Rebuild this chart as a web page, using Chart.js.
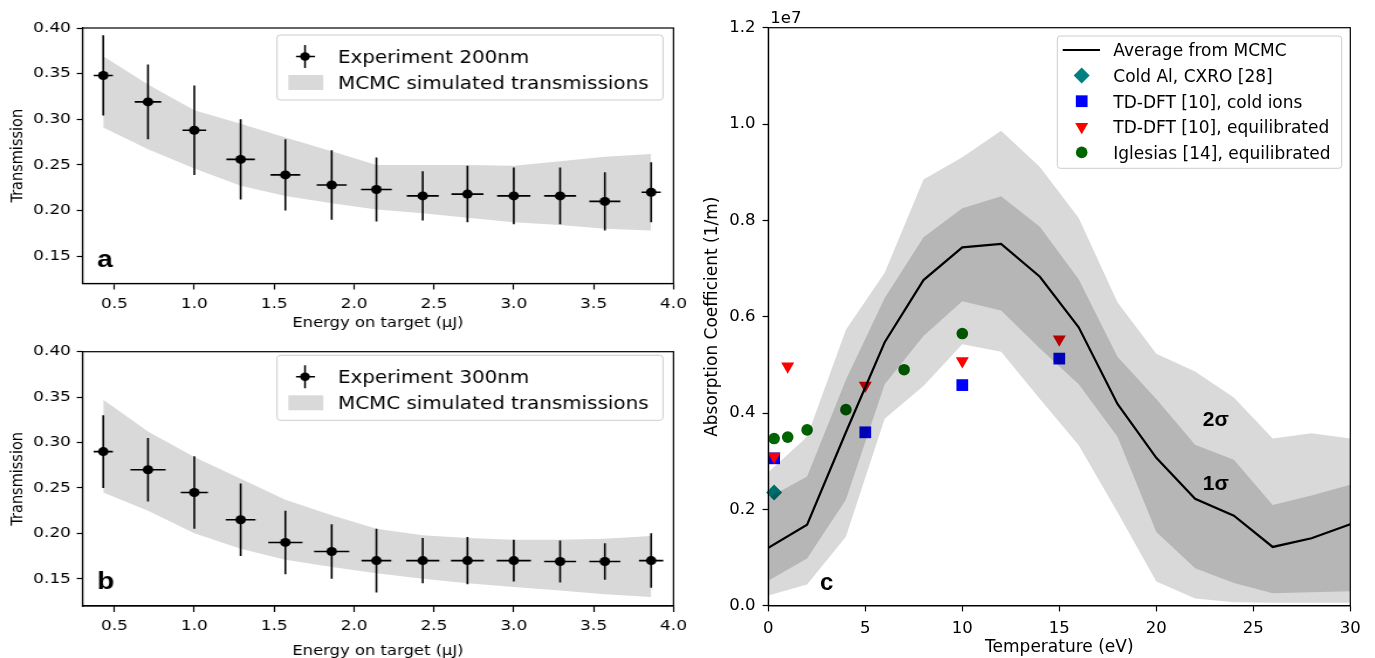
<!DOCTYPE html>
<html>
<head>
<meta charset="utf-8">
<script src="https://cdn.jsdelivr.net/npm/chart.js@4.4.0/dist/chart.umd.min.js"></script>
<style>
html, body { margin: 0; padding: 0; background: #fff; }
#wrap { position: relative; width: 1375px; height: 658px; overflow: hidden; background: #fff; }
canvas { position: absolute; }
</style>
</head>
<body>
<div id="wrap">
  <canvas id="chartA" width="598" height="330" style="left:0;top:0;width:700px;height:330px"></canvas>
  <canvas id="chartB" width="598" height="328" style="left:0;top:330px;width:700px;height:328px"></canvas>
  <canvas id="chartC" width="685" height="658" style="left:690px;top:0;width:685px;height:658px"></canvas>
</div>
<script>
// Données (panneaux a et b)
const energy = [0.43, 0.71, 1.00, 1.29, 1.57, 1.86, 2.14, 2.43, 2.71, 3.00, 3.29, 3.57, 3.86];
const trans200 = [0.348, 0.319, 0.288, 0.256, 0.239, 0.228, 0.223, 0.216, 0.218, 0.216, 0.216, 0.210, 0.220];
const trans200Err = [0.044, 0.041, 0.049, 0.044, 0.039, 0.038, 0.035, 0.027, 0.031, 0.031, 0.031, 0.032, 0.033];
const energy200Err = [0.06, 0.083, 0.074, 0.089, 0.093, 0.094, 0.096, 0.10, 0.10, 0.104, 0.10, 0.097, 0.06];
const band200Hi = [0.369, 0.338, 0.310, 0.295, 0.280, 0.265, 0.250, 0.250, 0.250, 0.249, 0.254, 0.259, 0.262];
const band200Lo = [0.291, 0.267, 0.246, 0.227, 0.216, 0.208, 0.201, 0.197, 0.192, 0.187, 0.184, 0.180, 0.178];

const trans300 = [0.290, 0.270, 0.245, 0.215, 0.190, 0.180, 0.170, 0.170, 0.170, 0.170, 0.169, 0.169, 0.170];
const trans300Err = [0.040, 0.035, 0.040, 0.040, 0.035, 0.030, 0.035, 0.025, 0.026, 0.023, 0.023, 0.020, 0.030];
const energy300Err = [0.06, 0.11, 0.085, 0.093, 0.107, 0.11, 0.093, 0.104, 0.103, 0.107, 0.10, 0.097, 0.076];
const band300Hi = [0.347, 0.312, 0.284, 0.260, 0.237, 0.220, 0.205, 0.198, 0.195, 0.193, 0.193, 0.194, 0.197];
const band300Lo = [0.245, 0.225, 0.200, 0.183, 0.171, 0.163, 0.156, 0.150, 0.145, 0.141, 0.137, 0.133, 0.130];

const energyTicks = [0.5, 1.0, 1.5, 2.0, 2.5, 3.0, 3.5, 4.0];
const transTicks = [0.15, 0.20, 0.25, 0.30, 0.35, 0.40];

// Panneau c (valeurs en unités de 1e7 1/m)
const temperature = [0, 2, 4, 6, 8, 10, 12, 14, 16, 18, 20, 22, 24, 26, 28, 30];
const mcmcAverage = [0.120, 0.168, 0.360, 0.547, 0.676, 0.744, 0.751, 0.683, 0.578, 0.419, 0.307, 0.222, 0.187, 0.122, 0.140, 0.169];
const sigma1Hi = [0.224, 0.268, 0.469, 0.639, 0.765, 0.825, 0.850, 0.787, 0.678, 0.517, 0.429, 0.334, 0.303, 0.209, 0.229, 0.251];
const sigma1Lo = [0.052, 0.098, 0.220, 0.460, 0.560, 0.632, 0.613, 0.534, 0.460, 0.351, 0.153, 0.078, 0.047, 0.026, 0.028, 0.030];
const sigma2Hi = [0.277, 0.351, 0.573, 0.691, 0.885, 0.931, 0.986, 0.911, 0.805, 0.630, 0.523, 0.486, 0.432, 0.347, 0.358, 0.347];
const sigma2Lo = [0.021, 0.044, 0.143, 0.388, 0.456, 0.543, 0.527, 0.429, 0.333, 0.194, 0.050, 0.015, 0.007, 0.006, 0.006, 0.006];

const cxroT = [0.3];
const cxroAbs = [0.235];
const tddftColdT = [0.3, 5, 10, 15];
const tddftColdAbs = [0.306, 0.360, 0.458, 0.513];
const tddftEqT = [0.3, 1, 5, 10, 15];
const tddftEqAbs = [0.310, 0.497, 0.457, 0.508, 0.553];
const iglesiasT = [0.3, 1, 2, 4, 7, 10];
const iglesiasAbs = [0.347, 0.350, 0.365, 0.407, 0.490, 0.565];

const tempTicks = [0, 5, 10, 15, 20, 25, 30];
const absTicks = [0.0, 0.2, 0.4, 0.6, 0.8, 1.0, 1.2];

// Mise en page
const SX = 700 / 598;   // étirement horizontal des panneaux a et b
const FONT = 'DejaVu Sans';
const BOLD = 'Liberation Sans';

Chart.defaults.color = '#000';
Chart.defaults.font.family = FONT;

function toPoints(xs, ys) {
    return xs.map((x, i) => ({ x: x, y: ys[i] }));
}

function tickGrid(len) {
    return { display: true, drawOnChartArea: false, drawTicks: true, tickLength: len, tickWidth: 1.2, tickColor: '#000' };
}

const axisBorder = { display: true, color: '#000', width: 1.2 };

function setTicks(values) {
    return scale => { scale.ticks = values.map(v => ({ value: v })); };
}

function roundBox(ctx, x, y, w, h, r) {
    ctx.beginPath();
    ctx.moveTo(x + r, y);
    ctx.arcTo(x + w, y, x + w, y + h, r);
    ctx.arcTo(x + w, y + h, x, y + h, r);
    ctx.arcTo(x, y + h, x, y, r);
    ctx.arcTo(x, y, x + w, y, r);
    ctx.closePath();
    ctx.fillStyle = 'rgba(255,255,255,0.85)';
    ctx.fill();
    ctx.strokeStyle = '#cccccc';
    ctx.lineWidth = 1;
    ctx.stroke();
}

function drawMarker(ctx, style, x, y, r) {
    ctx.beginPath();
    if (style === 'diamond') {
        ctx.moveTo(x, y - r); ctx.lineTo(x + r, y); ctx.lineTo(x, y + r); ctx.lineTo(x - r, y);
    } else if (style === 'square') {
        const s = r * Math.SQRT1_2;
        ctx.rect(x - s, y - s, 2 * s, 2 * s);
    } else if (style === 'triangleDown') {
        ctx.moveTo(x, y + r); ctx.lineTo(x - 0.866 * r, y - 0.5 * r); ctx.lineTo(x + 0.866 * r, y - 0.5 * r);
    } else {
        ctx.arc(x, y, r, 0, 2 * Math.PI);
    }
    ctx.closePath();
    ctx.fill();
}

// Barres d'erreur dessinées avant les marqueurs
const errorBars = {
    id: 'errorBars',
    beforeDatasetDraw(chart, args) {
        const ds = chart.data.datasets[args.index];
        if (!ds.yErr) return;
        const xs = chart.scales.x, ys = chart.scales.y, ctx = chart.ctx;
        ctx.save();
        ctx.strokeStyle = '#000';
        ctx.lineWidth = 1.6;
        ds.data.forEach((p, i) => {
            const px = xs.getPixelForValue(p.x), py = ys.getPixelForValue(p.y);
            ctx.beginPath();
            ctx.moveTo(px, ys.getPixelForValue(p.y - ds.yErr[i]));
            ctx.lineTo(px, ys.getPixelForValue(p.y + ds.yErr[i]));
            ctx.moveTo(xs.getPixelForValue(p.x - ds.xErr[i]), py);
            ctx.lineTo(xs.getPixelForValue(p.x + ds.xErr[i]), py);
            ctx.stroke();
        });
        ctx.restore();
    }
};

// Cadre complet autour de la zone de tracé
const frame = {
    id: 'frame',
    afterDatasetsDraw(chart) {
        const a = chart.chartArea, ctx = chart.ctx;
        ctx.save();
        ctx.strokeStyle = '#000';
        ctx.lineWidth = 1.2;
        ctx.strokeRect(a.left, a.top, a.right - a.left, a.bottom - a.top);
        ctx.restore();
    }
};

function transLegend(label, top, letter) {
    return {
        id: 'transLegend',
        afterDraw(chart) {
            const ctx = chart.ctx, a = chart.chartArea;
            ctx.save();
            roundBox(ctx, 277 / SX, top, (663 - 277) / SX, 65, 3);
            const cy = top + 21.5, mx = 305 / SX;
            ctx.strokeStyle = '#000';
            ctx.lineWidth = 1.5;
            ctx.beginPath();
            ctx.moveTo(296 / SX, cy); ctx.lineTo(301.5 / SX, cy);
            ctx.moveTo(309 / SX, cy); ctx.lineTo(315 / SX, cy);
            ctx.moveTo(mx, cy - 11.5); ctx.lineTo(mx, cy + 11.5);
            ctx.stroke();
            ctx.fillStyle = '#000';
            drawMarker(ctx, 'circle', mx, cy, 4.2);
            ctx.fillStyle = '#d9d9d9';
            ctx.fillRect(288.3 / SX, top + 40, 35 / SX, 15);
            ctx.fillStyle = '#000';
            ctx.textAlign = 'left';
            ctx.textBaseline = 'alphabetic';
            ctx.font = '17px "' + FONT + '"';
            ctx.fillText(label, 338 / SX, top + 27.5);
            ctx.fillText('MCMC simulated transmissions', 338 / SX, top + 54);
            ctx.font = 'bold 24px "' + BOLD + '"';
            ctx.fillText(letter, a.left + 12.5, a.bottom - 17);
            ctx.restore();
        }
    };
}

function transmissionChart(id, values, yErr, xErr, bandHi, bandLo, opts) {
    return new Chart(document.getElementById(id), {
        type: 'line',
        data: {
            datasets: [
                {
                    data: toPoints(energy, values), yErr: yErr, xErr: xErr,
                    showLine: false, order: 0, clip: false,
                    pointRadius: 4.5, pointBackgroundColor: '#000', pointBorderColor: '#000', pointBorderWidth: 0
                },
                {
                    data: toPoints(energy, bandHi), order: 1, fill: '+1',
                    backgroundColor: '#d9d9d9', borderColor: 'transparent', borderWidth: 0, pointRadius: 0
                },
                {
                    data: toPoints(energy, bandLo), order: 2, fill: false,
                    borderColor: 'transparent', borderWidth: 0, pointRadius: 0
                }
            ]
        },
        options: {
            responsive: false,
            animation: false,
            events: [],
            layout: { padding: { top: opts.top, right: 598 - 673.5 / SX, bottom: 0, left: 0 } },
            plugins: { legend: { display: false }, tooltip: { enabled: false } },
            scales: {
                x: {
                    type: 'linear', min: 0.3, max: 4.0, bounds: 'data',
                    afterBuildTicks: setTicks(energyTicks),
                    ticks: { callback: v => v.toFixed(1), font: { size: 14.5 }, padding: 6, autoSkip: false, maxRotation: 0 },
                    grid: tickGrid(6),
                    border: axisBorder,
                    title: { display: true, text: 'Energy on target (μJ)', font: { size: 14, lineHeight: 1 }, padding: { top: opts.titlePad, bottom: 0 } },
                    afterFit: s => { s.height = opts.axisHeight; s.paddingLeft = 0; s.paddingRight = 0; }
                },
                y: {
                    type: 'linear', min: 0.12, max: 0.40, bounds: 'data',
                    afterBuildTicks: setTicks(transTicks),
                    ticks: { callback: v => v.toFixed(2), font: { size: 14.5 }, padding: 5, autoSkip: false },
                    grid: tickGrid(4.9),
                    border: axisBorder,
                    title: { display: true, text: 'Transmission', font: { size: 14.5, lineHeight: 1.2 }, padding: { top: 6.5, bottom: 0 } },
                    afterFit: s => { s.width = 82.5 / SX; s.paddingTop = 0; s.paddingBottom = 0; }
                }
            }
        },
        plugins: [errorBars, frame, transLegend(opts.label, opts.legendTop, opts.letter)]
    });
}

transmissionChart('chartA', trans200, trans200Err, energy200Err, band200Hi, band200Lo,
    { top: 28, axisHeight: 46.5, titlePad: -1, legendTop: 35, label: 'Experiment 200nm', letter: 'a' });
transmissionChart('chartB', trans300, trans300Err, energy300Err, band300Hi, band300Lo,
    { top: 21.7, axisHeight: 52, titlePad: 6, legendTop: 25.3, label: 'Experiment 300nm', letter: 'b' });

// Légende et annotations du panneau c
const legendC = {
    id: 'legendC',
    afterDraw(chart) {
        const ctx = chart.ctx, a = chart.chartArea, xs = chart.scales.x, ys = chart.scales.y;
        ctx.save();
        roundBox(ctx, 367.3, 36, 284.4, 132.3, 3);
        const rows = [
            { text: 'Average from MCMC', line: true },
            { text: 'Cold Al, CXRO [28]', style: 'diamond', color: '#008080', r: 8 },
            { text: 'TD-DFT [10], cold ions', style: 'square', color: '#0000ff', r: 8.3 },
            { text: 'TD-DFT [10], equilibrated', style: 'triangleDown', color: '#ff0000', r: 7.5 },
            { text: 'Iglesias [14], equilibrated', style: 'circle', color: '#006400', r: 5.8 }
        ];
        ctx.font = '17px "' + FONT + '"';
        ctx.textAlign = 'left';
        ctx.textBaseline = 'alphabetic';
        rows.forEach((row, i) => {
            const cy = 50 + i * 25.6;
            if (row.line) {
                ctx.strokeStyle = '#000';
                ctx.lineWidth = 2.2;
                ctx.beginPath();
                ctx.moveTo(372.7, cy); ctx.lineTo(410, cy);
                ctx.stroke();
            } else {
                ctx.fillStyle = row.color;
                drawMarker(ctx, row.style, 391.7, cy, row.r);
            }
            ctx.fillStyle = '#000';
            ctx.fillText(row.text, 423.3, cy + 6.3);
        });
        ctx.font = '16.5px "' + FONT + '"';
        ctx.fillText('1e7', a.left + 2, 22.5);
        ctx.font = 'bold 21px "' + BOLD + '"';
        ctx.fillText('2σ', xs.getPixelForValue(22.4), ys.getPixelForValue(0.373));
        ctx.fillText('1σ', xs.getPixelForValue(22.4), ys.getPixelForValue(0.240));
        ctx.font = 'bold 24px "' + BOLD + '"';
        ctx.fillText('c', a.left + 51.7, a.bottom - 15.7);
        ctx.restore();
    }
};

function bandSet(values, order, fill, color) {
    return {
        data: toPoints(temperature, values), order: order, fill: fill,
        backgroundColor: color, borderColor: 'transparent', borderWidth: 0, pointRadius: 0
    };
}

function markerSet(xs, ys, order, style, color, radius, rotation) {
    return {
        data: toPoints(xs, ys), order: order, showLine: false, clip: false,
        pointStyle: style, pointRotation: rotation || 0, pointRadius: radius,
        pointBackgroundColor: color, pointBorderColor: color, pointBorderWidth: 0
    };
}

new Chart(document.getElementById('chartC'), {
    type: 'line',
    data: {
        datasets: [
            {
                data: toPoints(temperature, mcmcAverage), order: 0, fill: false,
                borderColor: '#000', borderWidth: 2.2, pointRadius: 0
            },
            bandSet(sigma1Hi, 1, '+1', 'rgba(0,0,0,0.165)'),
            bandSet(sigma1Lo, 2, false, 'transparent'),
            bandSet(sigma2Hi, 3, '+1', 'rgba(0,0,0,0.15)'),
            bandSet(sigma2Lo, 4, false, 'transparent'),
            markerSet(tddftEqT, tddftEqAbs, 5, 'triangle', '#ff0000', 7.5, 180),
            markerSet(tddftColdT, tddftColdAbs, 6, 'rect', '#0000ff', 8.3),
            markerSet(cxroT, cxroAbs, 7, 'rectRot', '#008080', 8),
            markerSet(iglesiasT, iglesiasAbs, 8, 'circle', '#006400', 5.8)
        ]
    },
    options: {
        responsive: false,
        animation: false,
        events: [],
        layout: { padding: { top: 27.7, right: 685 - 660.3, bottom: 0, left: 0 } },
        plugins: { legend: { display: false }, tooltip: { enabled: false } },
        scales: {
            x: {
                type: 'linear', min: 0, max: 30, bounds: 'data',
                afterBuildTicks: setTicks(tempTicks),
                ticks: { callback: v => String(v), font: { size: 16.5 }, padding: 7, autoSkip: false, maxRotation: 0 },
                grid: tickGrid(5.7),
                border: axisBorder,
                title: { display: true, text: 'Temperature (eV)', font: { size: 17, lineHeight: 1.2 }, padding: { top: 0, bottom: 0 } },
                afterFit: s => { s.height = 52.3; s.paddingLeft = 0; s.paddingRight = 0; }
            },
            y: {
                type: 'linear', min: 0, max: 1.2, bounds: 'data',
                afterBuildTicks: setTicks(absTicks),
                ticks: { callback: v => v.toFixed(1), font: { size: 16.5 }, padding: 7, autoSkip: false },
                grid: tickGrid(5.7),
                border: axisBorder,
                title: { display: true, text: 'Absorption Coefficient (1/m)', font: { size: 17, lineHeight: 1.2 }, padding: { top: 12.8, bottom: 0 } },
                afterFit: s => { s.width = 78.3; s.paddingTop = 0; s.paddingBottom = 0; }
            }
        }
    },
    plugins: [frame, legendC]
});
</script>
</body>
</html>
